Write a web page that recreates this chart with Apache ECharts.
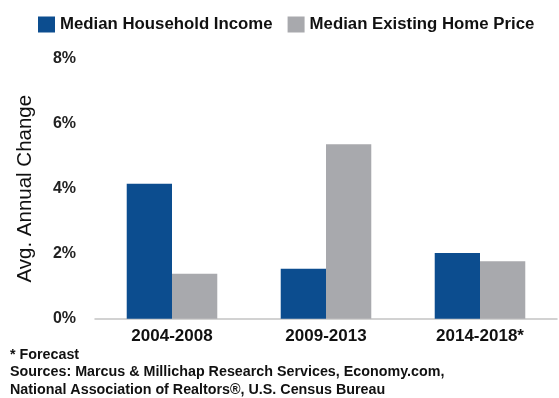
<!DOCTYPE html>
<html>
<head>
<meta charset="utf-8">
<script src="https://cdn.jsdelivr.net/npm/echarts@6/dist/echarts.min.js"></script>
<style>
html,body{margin:0;padding:0;background:#fff;}
#c{width:559px;height:398px;}
</style>
</head>
<body>
<div id="c"></div>
<script>
var categories = ['2004-2008', '2009-2013', '2014-2018*'];
var incomeValues = [4.15, 1.54, 2.02];
var homePriceValues = [1.38, 5.37, 1.77];
var seriesNames = ['Median Household Income', 'Median Existing Home Price'];
var yTicks = [0, 2, 4, 6, 8];
var footnotes = ['* Forecast', 'Sources: Marcus & Millichap Research Services, Economy.com,', 'National Association of Realtors®, U.S. Census Bureau'];

var chart = echarts.init(document.getElementById('c'));
var ff = '"Liberation Sans", Arial, sans-serif';
chart.setOption({
  animation: false,
  textStyle: { fontFamily: ff },
  legend: {
    left: 33, top: 11,
    itemWidth: 17, itemHeight: 16, itemGap: 15,
    icon: 'rect',
    textStyle: { fontFamily: ff, fontSize: 16.8, fontWeight: 'bold', color: '#111' },
    data: seriesNames
  },
  graphic: footnotes.map(function (t, i) {
    return {
      type: 'text', left: 10, top: 348 + i * 17.5,
      style: { text: t, fontFamily: ff, fontSize: 14.3, fontWeight: 'bold', fill: '#111' }
    };
  }),
  grid: { left: 95, right: 2, top: 58.7, bottom: 79.3, containLabel: false },
  xAxis: {
    type: 'category',
    data: categories,
    axisLine: { lineStyle: { color: '#c4c4c4', width: 1.5 } },
    axisTick: { show: false },
    axisLabel: { margin: 9, fontFamily: ff, fontSize: 17, fontWeight: 'bold', color: '#111' }
  },
  yAxis: {
    type: 'value',
    min: yTicks[0], max: yTicks[yTicks.length - 1], interval: 2,
    name: 'Avg. Annual Change',
    nameLocation: 'middle',
    nameGap: 59,
    nameTextStyle: { fontFamily: ff, fontSize: 20.5, color: '#111' },
    axisLine: { show: false },
    axisTick: { show: false },
    splitLine: { show: false },
    axisLabel: {
      margin: 19, fontFamily: ff, fontSize: 16, fontWeight: 'bold', color: '#222',
      formatter: function (v) { return v + '%'; }
    }
  },
  series: [
    { name: seriesNames[0], type: 'bar', data: incomeValues, barWidth: '29.4%', barGap: '0%',
      itemStyle: { color: '#0c4d8f' } },
    { name: seriesNames[1], type: 'bar', data: homePriceValues, barWidth: '29.4%', barGap: '0%',
      itemStyle: { color: '#a8a9ad' } }
  ]
});
</script>
</body>
</html>
